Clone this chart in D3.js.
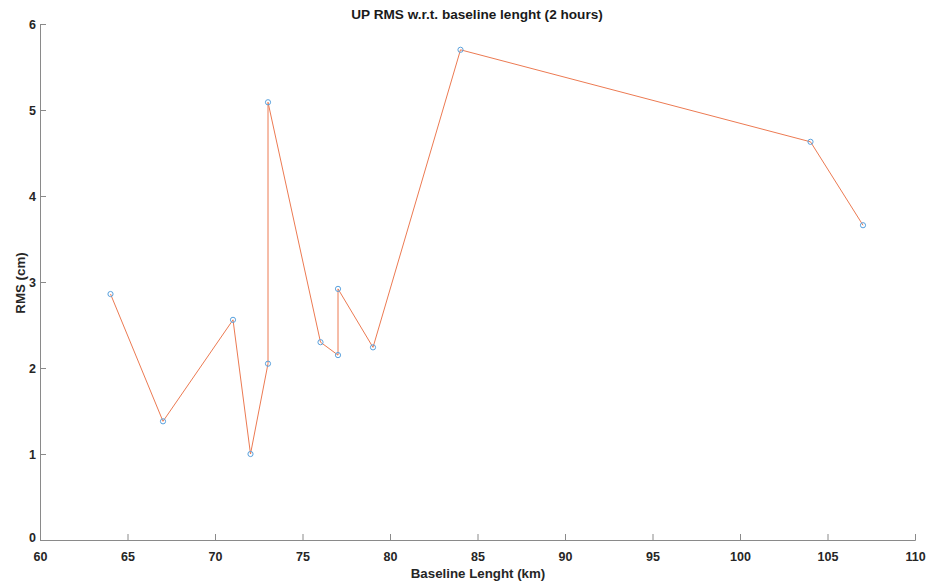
<!DOCTYPE html>
<html><head><meta charset="utf-8">
<script src="https://cdn.jsdelivr.net/npm/d3@7"></script>
<style>body{margin:0;background:#fff}svg{display:block}text{font-family:"Liberation Sans",Arial,sans-serif}</style>
</head><body>
<svg id="c" width="931" height="588"></svg>
<script>
const baseline = [64, 67, 71, 72, 73, 73, 76, 77, 77, 79, 84, 104, 107];
const rms = [2.86, 1.38, 2.56, 1.0, 2.05, 5.09, 2.30, 2.15, 2.92, 2.24, 5.70, 4.63, 3.66];
const xTicks = [60, 65, 70, 75, 80, 85, 90, 95, 100, 105, 110];
const yTicks = [0, 1, 2, 3, 4, 5, 6];

const svg = d3.select("#c");
const m = {l: 40, r: 16, t: 24, b: 48};
const W = 931, H = 588;
const x = d3.scaleLinear().domain([60, 110]).range([m.l, W - m.r]);
const y = d3.scaleLinear().domain([0, 6]).range([H - m.b, m.t]);
const axisCol = "#8a8a8a";

const gx = svg.append("g").attr("transform", `translate(0,${y(0)})`)
  .call(d3.axisBottom(x).tickValues(xTicks).tickSize(-6).tickPadding(12).tickFormat(d3.format("d")));
const gy = svg.append("g").attr("transform", `translate(${x(60)},0)`)
  .call(d3.axisLeft(y).tickValues(yTicks).tickSize(-6).tickPadding(4).tickFormat(d3.format("d")));
[gx, gy].forEach(g => {
  g.select(".domain").attr("stroke", axisCol).attr("stroke-width", 1);
  g.selectAll(".tick line").attr("stroke", axisCol);
  g.selectAll(".tick text").attr("fill", "#262626").attr("font-size", 12.5).attr("font-weight", "bold");
});
gy.select(".tick:first-of-type text").attr("dy", "0.1em");

const pts = baseline.map((b, i) => [b, rms[i]]);
svg.append("path").datum(pts)
  .attr("fill", "none").attr("stroke", "#EC7A52").attr("stroke-width", 1)
  .attr("d", d3.line().x(d => x(d[0]) + 0.5).y(d => y(d[1])));
svg.append("g").selectAll("circle").data(pts).join("circle")
  .attr("cx", d => x(d[0]) + 0.5).attr("cy", d => y(d[1])).attr("r", 2.6)
  .attr("fill", "none").attr("stroke", "#5AA2DE").attr("stroke-width", 1);

svg.append("text").attr("x", 477).attr("y", 19).attr("text-anchor", "middle")
  .attr("font-size", 13.6).attr("font-weight", "bold").attr("fill", "#1a1a1a")
  .text("UP RMS w.r.t. baseline lenght (2 hours)");
svg.append("text").attr("x", 478).attr("y", 578).attr("text-anchor", "middle")
  .attr("font-size", 13.3).attr("font-weight", "bold").attr("fill", "#262626")
  .text("Baseline Lenght (km)");
svg.append("text").attr("transform", "translate(25,283) rotate(-90)").attr("text-anchor", "middle")
  .attr("font-size", 13.3).attr("font-weight", "bold").attr("fill", "#262626")
  .text("RMS (cm)");
</script>
</body></html>
